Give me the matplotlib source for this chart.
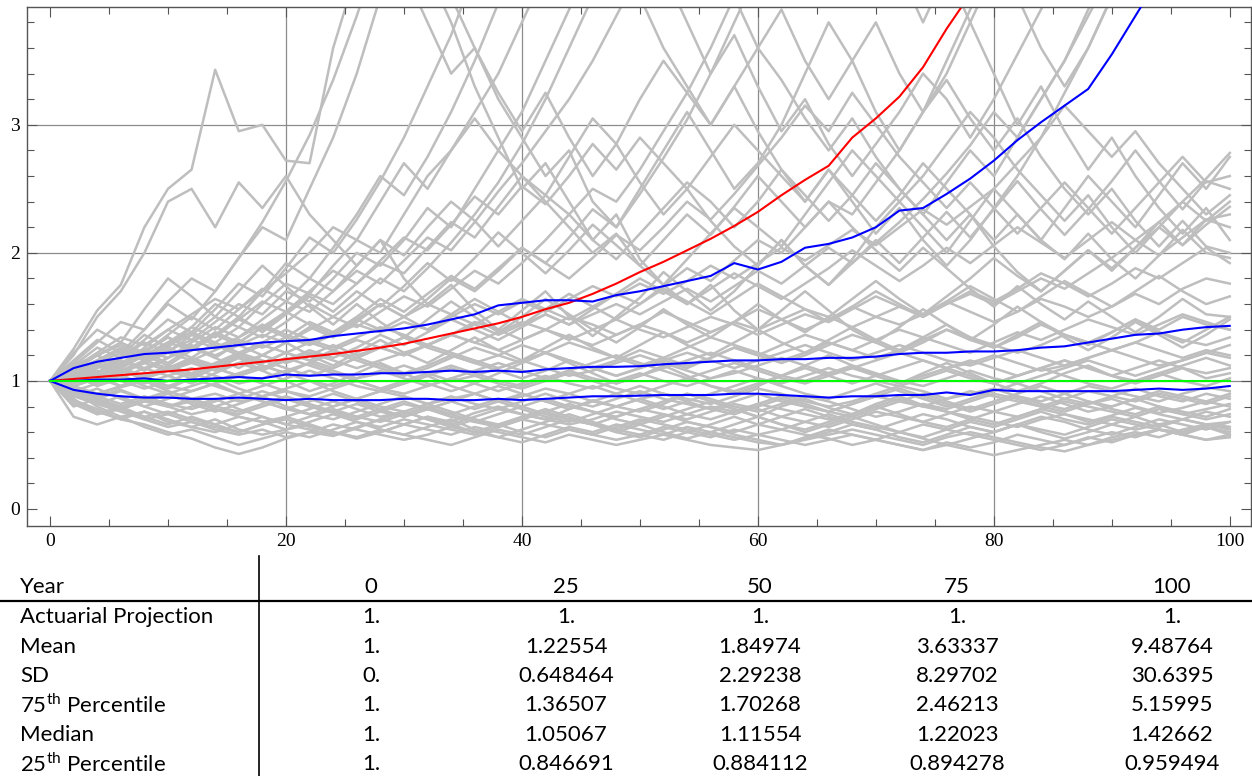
import numpy as np
import matplotlib.pyplot as plt
from matplotlib.lines import Line2D

plt.rcParams['font.family'] = 'Liberation Serif'

# simulated paths, read every 2 years (0..100)
years = np.arange(0, 101, 2)

paths = [
    [1.00,0.85,0.78,0.70,0.66,0.60,0.55,0.48,0.43,0.48,0.55,0.60,0.57,0.63,0.70,0.66,0.72,0.68,0.75,0.80,0.74,0.70,0.78,0.85,0.80,0.76,0.82,0.90,0.84,0.78,0.72,0.80,0.86,0.79,0.74,0.82,0.88,0.81,0.76,0.70,0.66,0.72,0.78,0.74,0.68,0.73,0.79,0.74,0.70,0.66,0.62],
    [1.00,0.92,0.80,0.72,0.76,0.68,0.64,0.70,0.62,0.58,0.62,0.66,0.60,0.56,0.62,0.58,0.64,0.70,0.62,0.56,0.52,0.58,0.64,0.60,0.66,0.62,0.58,0.64,0.60,0.56,0.52,0.50,0.56,0.62,0.58,0.54,0.60,0.66,0.62,0.58,0.54,0.50,0.46,0.50,0.56,0.52,0.58,0.62,0.60,0.64,0.58],
    [1.00,0.94,0.88,0.93,0.86,0.80,0.84,0.78,0.74,0.80,0.86,0.80,0.75,0.70,0.76,0.82,0.78,0.72,0.68,0.74,0.80,0.86,0.80,0.76,0.72,0.78,0.84,0.90,0.86,0.80,0.76,0.82,0.88,0.84,0.78,0.72,0.76,0.82,0.78,0.84,0.90,0.86,0.80,0.76,0.82,0.86,0.80,0.75,0.79,0.84,0.80],
    [1.00,0.86,0.74,0.78,0.70,0.64,0.68,0.62,0.58,0.62,0.56,0.60,0.66,0.62,0.58,0.54,0.58,0.64,0.70,0.66,0.60,0.56,0.62,0.58,0.64,0.70,0.66,0.62,0.58,0.54,0.58,0.62,0.58,0.55,0.50,0.54,0.50,0.46,0.52,0.48,0.52,0.58,0.54,0.50,0.55,0.60,0.56,0.62,0.58,0.54,0.56],
    [1.00,0.90,0.84,0.78,0.84,0.80,0.74,0.78,0.72,0.68,0.72,0.78,0.84,0.78,0.72,0.76,0.70,0.66,0.72,0.78,0.74,0.70,0.66,0.70,0.76,0.72,0.68,0.74,0.80,0.76,0.82,0.78,0.74,0.70,0.74,0.80,0.86,0.80,0.76,0.72,0.68,0.64,0.70,0.74,0.70,0.66,0.62,0.66,0.70,0.66,0.68],
    [1.00,0.96,0.90,0.95,1.00,0.92,0.86,0.90,0.84,0.88,0.92,0.86,0.80,0.86,0.92,0.88,0.82,0.86,0.90,0.84,0.88,0.94,0.90,0.84,0.80,0.86,0.90,0.86,0.82,0.88,0.94,0.90,0.84,0.80,0.84,0.90,0.96,0.92,0.86,0.90,0.94,0.88,0.84,0.90,0.96,0.92,0.88,0.84,0.90,0.95,0.92],
    [1.00,0.88,0.82,0.76,0.70,0.74,0.68,0.64,0.60,0.66,0.70,0.64,0.60,0.56,0.60,0.66,0.62,0.58,0.64,0.60,0.56,0.52,0.58,0.54,0.50,0.54,0.58,0.54,0.50,0.48,0.46,0.50,0.54,0.58,0.62,0.58,0.54,0.50,0.56,0.60,0.56,0.52,0.48,0.45,0.50,0.56,0.60,0.56,0.62,0.66,0.64],
    [1.00,1.06,1.12,1.04,0.98,1.04,1.10,1.04,0.98,1.02,1.08,1.14,1.08,1.02,1.06,1.12,1.06,1.00,1.04,1.10,1.16,1.10,1.04,1.08,1.14,1.20,1.14,1.08,1.02,1.06,1.12,1.18,1.12,1.06,1.10,1.16,1.22,1.16,1.10,1.14,1.20,1.14,1.08,1.12,1.18,1.24,1.18,1.12,1.16,1.22,1.18],
    [1.00,1.10,1.04,0.96,1.02,1.08,1.16,1.10,1.04,1.10,1.18,1.12,1.06,1.00,0.94,1.00,1.06,1.12,1.06,1.00,0.96,1.02,1.08,1.02,0.98,1.04,1.10,1.16,1.22,1.16,1.10,1.04,1.00,1.06,1.12,1.06,1.00,0.96,1.02,1.08,1.02,0.98,1.04,1.10,1.16,1.10,1.04,1.10,1.16,1.22,1.28],
    [1.00,1.12,1.20,1.28,1.20,1.30,1.38,1.30,1.22,1.30,1.40,1.32,1.26,1.34,1.42,1.36,1.28,1.36,1.46,1.40,1.32,1.40,1.50,1.44,1.36,1.44,1.54,1.46,1.38,1.46,1.56,1.48,1.40,1.48,1.58,1.50,1.44,1.52,1.62,1.54,1.46,1.54,1.64,1.58,1.50,1.58,1.68,1.60,1.72,1.80,1.76],
    [1.00,1.25,1.55,1.75,2.20,2.50,2.65,3.43,2.95,3.00,2.72,2.70,3.60,4.20,4.60,4.20,3.80,3.40,3.60,3.20,2.90,2.60,2.80,2.40,2.20,2.50,2.80,3.10,2.80,2.50,2.70,3.00,3.40,3.80,3.50,3.10,2.80,3.10,3.50,3.90,4.30,4.00,3.60,3.30,3.60,4.00,4.40,4.80,5.20,4.80,5.20],
    [1.00,1.20,1.50,1.70,2.00,2.40,2.50,2.20,2.55,2.35,2.60,2.30,2.10,1.90,2.10,1.80,1.60,1.75,1.55,1.40,1.55,1.70,1.50,1.35,1.50,1.65,1.85,1.70,1.55,1.70,1.90,2.10,1.90,1.75,1.95,2.20,2.40,2.20,2.00,2.25,2.50,2.30,2.10,2.35,2.60,2.40,2.20,2.45,2.70,2.50,2.75],
    [1.00,1.08,1.16,1.24,1.18,1.28,1.36,1.28,1.20,1.14,1.22,1.30,1.24,1.18,1.26,1.34,1.26,1.20,1.14,1.20,1.28,1.22,1.16,1.10,1.16,1.24,1.18,1.12,1.18,1.26,1.20,1.14,1.20,1.28,1.36,1.30,1.22,1.30,1.40,1.32,1.26,1.34,1.44,1.36,1.30,1.38,1.48,1.40,1.50,1.44,1.40],
    [1.00,1.10,1.22,1.34,1.28,1.40,1.52,1.64,1.56,1.70,1.84,2.00,2.20,2.10,2.40,2.70,2.50,2.80,3.10,3.40,3.80,4.20,4.60,5.00,5.40,5.80,6.20,6.60,7.00,7.40,7.80,8.20,8.60,9.00,9.40,9.80,10.2,10.6,11.0,11.4,11.8,12.2,12.6,13.0,13.4,13.8,14.2,14.6,15.0,15.4,15.8],
    [1.00,1.12,1.06,1.18,1.30,1.22,1.36,1.50,1.42,1.60,1.76,1.68,1.90,2.10,2.00,2.30,2.60,2.80,3.05,2.80,2.60,2.40,2.20,2.00,2.15,1.90,1.75,1.95,2.15,2.35,2.20,2.05,2.30,2.55,2.80,2.60,2.40,2.60,2.85,3.10,2.90,2.65,2.45,2.25,2.45,2.20,2.00,2.20,2.40,2.25,2.40],
    [1.00,0.92,0.98,1.04,0.96,0.90,0.96,1.02,0.94,0.88,0.94,1.00,0.92,0.86,0.92,0.98,1.04,0.96,0.90,0.96,0.90,0.84,0.90,0.96,0.90,0.84,0.78,0.84,0.90,0.96,1.02,0.96,0.90,0.86,0.92,0.98,0.92,0.86,0.80,0.86,0.92,0.98,0.92,0.86,0.82,0.88,0.94,0.88,0.84,0.90,0.86],
    [1.00,1.04,0.98,1.06,1.14,1.08,1.02,1.10,1.18,1.12,1.06,1.14,1.22,1.16,1.10,1.04,1.10,1.18,1.26,1.20,1.14,1.22,1.30,1.24,1.18,1.12,1.18,1.26,1.34,1.28,1.22,1.16,1.22,1.30,1.24,1.18,1.24,1.32,1.40,1.34,1.28,1.22,1.28,1.36,1.30,1.24,1.30,1.38,1.32,1.28,1.34],
    [1.00,0.90,0.82,0.88,0.80,0.74,0.80,0.86,0.78,0.72,0.66,0.72,0.78,0.72,0.68,0.74,0.80,0.74,0.68,0.64,0.70,0.76,0.70,0.66,0.62,0.68,0.74,0.68,0.64,0.60,0.66,0.72,0.78,0.72,0.66,0.62,0.68,0.74,0.70,0.64,0.60,0.66,0.72,0.68,0.62,0.58,0.64,0.70,0.66,0.62,0.68],
    [1.00,1.08,1.20,1.12,1.26,1.40,1.32,1.46,1.60,1.52,1.70,1.62,1.80,2.00,1.90,2.10,2.35,2.20,2.50,2.80,3.10,3.50,3.90,4.30,4.10,4.50,4.20,3.80,3.40,3.70,3.30,2.95,3.20,2.85,2.60,2.85,3.10,3.40,3.20,2.90,3.20,3.55,3.90,4.30,4.70,5.10,5.50,5.90,6.30,6.70,7.10],
    [1.00,1.06,1.14,1.08,1.02,1.10,1.18,1.12,1.20,1.28,1.22,1.16,1.24,1.32,1.26,1.20,1.28,1.36,1.30,1.38,1.46,1.40,1.32,1.40,1.48,1.40,1.34,1.42,1.50,1.44,1.36,1.44,1.52,1.46,1.56,1.66,1.58,1.50,1.60,1.70,1.62,1.72,1.84,1.76,1.66,1.76,1.88,1.80,1.92,2.04,1.92],
    [1.00,0.94,0.86,0.80,0.86,0.92,0.86,0.80,0.76,0.82,0.88,0.82,0.76,0.72,0.78,0.84,0.78,0.74,0.80,0.86,0.80,0.74,0.70,0.66,0.72,0.78,0.74,0.70,0.76,0.82,0.78,0.72,0.68,0.64,0.70,0.76,0.72,0.68,0.74,0.80,0.76,0.72,0.78,0.84,0.80,0.76,0.72,0.78,0.74,0.70,0.74],
    [1.00,1.04,0.96,1.02,1.10,1.04,0.98,1.06,1.14,1.08,1.16,1.24,1.18,1.26,1.36,1.28,1.38,1.48,1.40,1.32,1.42,1.52,1.44,1.56,1.68,1.60,1.74,1.88,1.78,1.94,2.10,2.00,2.20,2.40,2.30,2.55,2.80,3.10,3.40,3.80,4.20,4.60,5.00,5.40,5.80,6.20,6.60,7.00,7.40,7.80,8.20],
    [1.00,1.14,1.30,1.46,1.40,1.62,1.80,1.70,1.96,2.20,2.10,2.50,2.90,3.40,4.00,4.60,4.20,3.80,3.30,2.90,2.50,2.70,2.40,2.10,2.30,1.95,1.75,1.60,1.75,1.55,1.40,1.55,1.70,1.55,1.40,1.30,1.42,1.56,1.44,1.32,1.44,1.58,1.46,1.34,1.24,1.34,1.46,1.36,1.26,1.36,1.48],
    [1.00,1.02,1.08,1.00,0.94,1.00,1.06,1.00,1.06,1.12,1.06,1.00,0.96,1.02,1.08,1.02,0.96,1.02,1.08,1.14,1.08,1.02,1.08,1.14,1.20,1.14,1.08,1.02,1.08,1.14,1.08,1.02,0.98,1.04,1.10,1.04,0.98,1.04,1.10,1.16,1.10,1.04,1.10,1.16,1.10,1.04,1.00,1.06,1.12,1.18,1.12],
    [1.00,1.10,1.20,1.30,1.22,1.36,1.50,1.40,1.56,1.72,1.62,1.80,1.70,1.90,2.10,1.98,2.20,2.40,2.25,2.05,2.25,2.45,2.30,2.10,1.95,2.15,2.35,2.55,2.40,2.20,2.40,2.65,2.45,2.25,2.45,2.70,2.50,2.30,2.55,2.80,2.60,2.90,3.20,3.50,3.90,4.30,4.70,5.10,5.50,5.90,6.30],
    [1.00,0.90,0.84,0.78,0.72,0.76,0.70,0.66,0.72,0.68,0.62,0.68,0.74,0.68,0.64,0.70,0.66,0.62,0.58,0.64,0.70,0.66,0.62,0.58,0.54,0.58,0.64,0.60,0.56,0.62,0.58,0.54,0.50,0.54,0.58,0.54,0.50,0.46,0.50,0.46,0.42,0.46,0.50,0.54,0.50,0.54,0.58,0.62,0.58,0.54,0.58],
    [1.00,1.06,1.00,1.08,1.16,1.10,1.04,1.12,1.20,1.14,1.22,1.16,1.10,1.18,1.26,1.20,1.28,1.36,1.30,1.24,1.32,1.40,1.34,1.28,1.36,1.44,1.38,1.30,1.38,1.46,1.40,1.48,1.56,1.50,1.42,1.50,1.58,1.52,1.60,1.68,1.60,1.70,1.80,1.72,1.84,1.96,2.10,2.24,2.40,2.58,2.78],
    [1.00,1.10,1.04,1.14,1.24,1.18,1.30,1.42,1.34,1.48,1.62,1.54,1.70,1.86,1.76,1.94,2.12,2.02,2.24,2.48,2.70,2.95,3.20,3.50,3.85,4.20,4.60,5.00,5.40,5.80,6.20,6.60,7.00,7.40,7.80,8.20,8.60,9.00,9.40,9.80,10.2,10.6,11.0,11.4,11.8,12.2,12.6,13.0,13.4,13.8,14.2],
    [1.00,1.08,1.16,1.10,1.20,1.30,1.24,1.36,1.48,1.40,1.54,1.68,1.60,1.76,1.92,1.84,2.04,2.24,2.12,2.36,2.60,2.45,2.75,3.05,2.85,3.20,3.50,3.25,3.00,3.30,3.60,3.35,3.05,2.80,3.05,2.75,2.50,2.30,2.10,2.30,2.05,1.85,1.70,1.86,2.02,1.86,2.04,2.24,2.06,2.26,2.20],
    [1.00,0.96,1.02,1.08,1.02,0.96,1.02,0.96,0.90,0.96,1.02,1.08,1.02,0.96,0.92,0.98,1.04,1.10,1.04,0.98,0.94,1.00,1.06,1.00,0.94,0.90,0.96,1.02,0.96,0.92,0.98,1.04,1.10,1.04,0.98,1.04,1.10,1.16,1.10,1.04,0.98,1.04,1.10,1.04,0.98,0.94,1.00,1.06,1.00,0.96,1.02],
    [1.00,0.94,0.88,0.82,0.88,0.82,0.78,0.84,0.90,0.84,0.78,0.74,0.80,0.86,0.80,0.76,0.82,0.88,0.82,0.78,0.84,0.90,0.84,0.80,0.86,0.92,0.86,0.82,0.78,0.84,0.90,0.84,0.80,0.76,0.82,0.88,0.84,0.80,0.86,0.92,0.88,0.84,0.80,0.86,0.92,0.88,0.84,0.90,0.86,0.82,0.88],
    [1.00,1.08,1.00,1.10,1.20,1.12,1.24,1.36,1.28,1.20,1.30,1.42,1.34,1.46,1.60,1.50,1.64,1.80,1.70,1.86,2.04,1.92,2.12,2.34,2.20,2.46,2.74,3.04,3.40,3.80,4.20,4.60,5.00,4.60,4.20,4.60,4.20,3.80,4.20,3.80,3.40,3.00,3.30,2.95,2.65,2.90,2.60,2.35,2.15,2.35,2.10],
    [1.00,1.10,1.20,1.12,1.24,1.34,1.26,1.38,1.30,1.42,1.54,1.44,1.36,1.48,1.60,1.50,1.40,1.52,1.64,1.54,1.44,1.56,1.68,1.58,1.48,1.60,1.72,1.62,1.52,1.64,1.76,1.66,1.56,1.46,1.58,1.70,1.60,1.50,1.62,1.74,1.64,1.54,1.66,1.78,1.68,1.58,1.70,1.82,1.70,1.60,1.66],
    [1.00,0.92,0.86,0.92,0.86,0.80,0.86,0.80,0.86,0.92,0.86,0.80,0.76,0.82,0.76,0.72,0.78,0.84,0.78,0.84,0.90,0.84,0.78,0.84,0.90,0.96,0.90,0.84,0.78,0.74,0.80,0.86,0.80,0.76,0.82,0.88,0.94,0.88,0.82,0.76,0.82,0.88,0.82,0.78,0.84,0.78,0.74,0.80,0.76,0.72,0.78],
    [1.00,1.12,1.26,1.18,1.32,1.48,1.38,1.56,1.76,1.66,1.88,2.12,2.00,2.26,2.56,2.90,3.30,3.70,4.20,4.70,5.20,4.80,4.40,4.80,4.40,4.00,3.60,3.30,3.00,3.30,2.95,2.65,2.40,2.65,2.40,2.15,2.35,2.10,1.90,2.10,2.35,2.60,2.90,3.25,3.60,4.00,4.40,4.80,5.20,5.60,6.00],
    [1.00,1.06,1.14,1.22,1.16,1.24,1.32,1.26,1.34,1.44,1.36,1.30,1.38,1.48,1.40,1.50,1.60,1.52,1.44,1.54,1.64,1.56,1.48,1.58,1.68,1.80,1.70,1.60,1.72,1.84,1.74,1.64,1.76,1.88,2.02,1.90,1.78,1.90,2.04,1.92,2.06,2.20,2.08,1.96,2.10,2.24,2.10,1.98,2.12,2.26,2.30],
    [1.00,0.84,0.76,0.70,0.76,0.70,0.64,0.60,0.66,0.72,0.66,0.62,0.58,0.64,0.70,0.76,0.70,0.64,0.60,0.56,0.62,0.68,0.74,0.68,0.62,0.58,0.54,0.60,0.66,0.72,0.66,0.62,0.68,0.74,0.68,0.64,0.60,0.56,0.62,0.68,0.64,0.70,0.76,0.70,0.66,0.72,0.68,0.64,0.70,0.76,0.72],
    [1.00,1.08,1.02,0.96,1.04,1.12,1.06,1.14,1.22,1.16,1.10,1.04,1.10,1.18,1.12,1.06,1.12,1.20,1.14,1.08,1.02,1.08,1.16,1.10,1.04,1.10,1.16,1.10,1.18,1.26,1.20,1.28,1.36,1.30,1.24,1.32,1.40,1.34,1.28,1.22,1.30,1.38,1.32,1.40,1.48,1.42,1.36,1.44,1.52,1.46,1.40],
    [1.00,1.04,1.10,1.16,1.10,1.18,1.26,1.20,1.28,1.36,1.30,1.40,1.50,1.42,1.54,1.66,1.58,1.72,1.86,1.76,1.92,2.10,2.30,2.50,2.40,2.65,2.95,3.25,3.60,4.00,4.40,4.80,5.20,5.60,6.00,6.40,6.80,7.20,7.60,8.00,8.40,8.80,9.20,9.60,10.0,10.4,10.8,11.2,11.6,12.0,12.4],
    [1.00,0.98,1.04,1.10,1.04,1.10,1.16,1.10,1.04,1.10,1.16,1.22,1.16,1.10,1.16,1.22,1.28,1.22,1.16,1.10,1.16,1.22,1.16,1.10,1.04,1.10,1.16,1.22,1.16,1.10,1.16,1.22,1.28,1.22,1.16,1.22,1.28,1.22,1.16,1.12,1.18,1.24,1.18,1.12,1.18,1.24,1.30,1.24,1.18,1.24,1.20],
    [1.00,1.10,1.02,1.12,1.22,1.14,1.26,1.18,1.30,1.42,1.34,1.46,1.38,1.50,1.64,1.54,1.68,1.82,1.72,1.88,2.04,1.92,1.80,1.96,2.14,2.02,2.20,2.40,2.26,2.46,2.68,2.90,3.15,2.95,3.25,3.00,2.75,2.55,2.35,2.55,2.35,2.15,2.35,2.55,2.35,2.15,2.35,2.55,2.75,2.55,2.60],
    [1.00,1.14,1.06,1.20,1.36,1.26,1.42,1.60,1.50,1.70,1.92,1.80,2.04,2.30,2.60,2.45,2.75,3.10,3.50,3.95,4.40,4.90,5.40,5.00,5.50,6.00,6.50,7.00,7.50,8.00,8.50,9.00,9.50,10.0,10.5,11.0,11.5,12.0,12.5,13.0,13.5,14.0,14.5,15.0,15.5,16.0,16.5,17.0,17.5,18.0,18.5],
    [1.00,0.96,1.02,1.08,1.02,1.08,1.14,1.08,1.14,1.20,1.14,1.20,1.28,1.20,1.26,1.34,1.28,1.36,1.44,1.36,1.44,1.52,1.44,1.52,1.60,1.52,1.62,1.72,1.62,1.74,1.86,1.76,1.90,2.04,1.92,2.08,2.24,2.42,2.62,2.84,3.10,2.90,3.20,3.50,3.85,4.20,4.60,5.00,5.40,5.80,6.20],
    [1.00,1.08,1.16,1.26,1.18,1.30,1.42,1.34,1.48,1.62,1.54,1.70,1.86,1.76,1.94,2.12,2.02,2.22,2.44,2.30,2.52,2.38,2.60,2.85,2.65,2.90,2.70,2.50,2.75,3.00,2.80,2.60,2.40,2.65,2.45,2.25,2.45,2.70,2.50,2.30,2.10,2.30,2.10,1.95,2.15,1.95,1.80,1.98,2.18,2.00,1.96],
    [1.00,0.94,0.90,0.96,1.02,0.96,0.92,0.98,1.04,0.98,0.92,0.88,0.94,1.00,0.94,0.90,0.96,1.02,0.98,0.92,0.98,1.04,0.98,0.94,1.00,1.06,1.00,0.96,1.02,1.08,1.02,0.98,1.04,1.10,1.04,1.00,0.96,1.02,1.08,1.02,0.98,1.04,1.10,1.16,1.10,1.04,1.10,1.16,1.10,1.06,1.10],
    [1.00,1.04,1.12,1.06,1.14,1.22,1.16,1.24,1.32,1.26,1.34,1.28,1.36,1.44,1.38,1.46,1.40,1.50,1.60,1.52,1.62,1.54,1.64,1.74,1.66,1.76,1.68,1.78,1.90,1.80,1.92,2.04,1.94,2.06,2.18,2.06,2.20,2.34,2.22,2.36,2.50,2.70,2.90,3.15,2.95,2.75,2.95,2.70,2.50,2.30,2.45],
    [1.00,0.72,0.66,0.72,0.64,0.58,0.62,0.56,0.50,0.55,0.60,0.56,0.62,0.68,0.62,0.58,0.54,0.50,0.56,0.62,0.58,0.64,0.70,0.66,0.60,0.56,0.62,0.68,0.64,0.58,0.54,0.50,0.55,0.60,0.66,0.62,0.56,0.52,0.58,0.64,0.60,0.66,0.62,0.58,0.64,0.70,0.66,0.62,0.58,0.64,0.60],
    [1.00,0.80,0.86,0.78,0.84,0.90,0.82,0.76,0.82,0.88,0.80,0.74,0.70,0.76,0.82,0.88,0.82,0.76,0.70,0.64,0.70,0.76,0.82,0.76,0.70,0.66,0.72,0.78,0.84,0.78,0.72,0.66,0.62,0.68,0.74,0.80,0.74,0.68,0.64,0.70,0.76,0.82,0.88,0.82,0.76,0.80,0.86,0.80,0.74,0.78,0.82],
    [1.00,1.12,1.02,1.10,1.00,0.94,1.02,1.10,1.18,1.08,1.00,0.92,0.98,1.06,1.14,1.06,0.98,0.92,0.98,1.06,1.14,1.22,1.14,1.06,0.98,1.04,1.12,1.04,0.96,0.90,0.96,1.04,1.12,1.20,1.12,1.04,0.98,1.06,1.14,1.06,0.98,0.92,0.98,1.06,1.12,1.04,0.98,1.04,1.10,1.02,1.06],
    [1.00,1.22,1.40,1.30,1.56,1.80,1.66,1.50,1.70,1.90,1.74,1.58,1.44,1.60,1.46,1.34,1.48,1.62,1.50,1.38,1.50,1.64,1.52,1.40,1.30,1.42,1.56,1.44,1.34,1.46,1.60,1.48,1.38,1.50,1.64,1.78,1.64,1.52,1.66,1.80,1.96,1.82,1.70,1.86,2.02,1.88,2.04,2.20,2.06,2.22,2.36],
    [1.00,1.06,1.14,1.06,1.16,1.26,1.18,1.30,1.42,1.34,1.46,1.60,1.50,1.64,1.80,1.70,1.88,2.08,2.30,2.55,2.85,3.20,3.60,4.00,4.40,4.00,4.40,4.80,4.40,4.00,3.60,3.90,3.50,3.20,3.50,3.80,3.40,3.10,3.35,3.05,2.80,3.05,2.75,2.50,2.30,2.50,2.25,2.05,2.25,2.05,2.00],
    [1.00,0.88,0.94,0.86,0.80,0.86,0.92,0.98,0.90,0.84,0.78,0.84,0.90,0.84,0.78,0.72,0.78,0.84,0.90,0.84,0.78,0.72,0.68,0.74,0.80,0.86,0.80,0.74,0.70,0.76,0.82,0.88,0.82,0.76,0.72,0.78,0.84,0.90,0.84,0.78,0.84,0.90,0.96,0.90,0.84,0.80,0.86,0.92,0.88,0.84,0.90],
    [1.00,1.10,1.20,1.10,1.22,1.34,1.24,1.36,1.50,1.38,1.52,1.66,1.54,1.70,1.58,1.74,1.92,1.78,1.96,2.16,2.00,1.84,2.02,2.22,2.06,1.90,2.10,2.30,2.14,2.36,2.60,2.40,2.20,2.40,2.20,2.02,1.86,2.04,1.88,1.72,1.58,1.74,1.60,1.48,1.62,1.50,1.38,1.50,1.64,1.52,1.50],
    [1.00,1.16,1.32,1.22,1.40,1.60,1.48,1.70,1.96,2.24,2.56,2.92,3.35,3.85,4.40,5.00,4.50,4.00,3.60,3.25,2.95,3.25,2.90,2.60,2.85,2.55,2.30,2.50,2.25,2.05,1.90,2.10,1.90,1.75,1.92,2.10,1.92,2.12,2.32,2.12,2.34,2.56,2.34,2.14,2.34,2.56,2.80,2.56,2.34,2.56,2.50],
    [1.00,0.82,0.74,0.80,0.72,0.66,0.72,0.66,0.60,0.66,0.72,0.66,0.60,0.55,0.60,0.66,0.72,0.66,0.60,0.66,0.72,0.78,0.72,0.66,0.60,0.66,0.60,0.55,0.60,0.66,0.72,0.66,0.60,0.66,0.72,0.66,0.60,0.55,0.50,0.55,0.60,0.66,0.60,0.55,0.60,0.66,0.72,0.66,0.60,0.66,0.64],
    [1.00,1.14,1.06,1.16,1.08,1.18,1.28,1.18,1.10,1.20,1.30,1.20,1.12,1.22,1.32,1.22,1.14,1.24,1.34,1.24,1.16,1.26,1.36,1.26,1.18,1.28,1.38,1.28,1.20,1.30,1.40,1.30,1.22,1.32,1.42,1.32,1.24,1.34,1.44,1.34,1.26,1.36,1.46,1.36,1.28,1.38,1.48,1.38,1.30,1.40,1.50],
]

mean = [1.00,1.015,1.03,1.045,1.06,1.075,1.09,1.11,1.13,1.15,1.17,1.19,1.21,1.235,1.26,1.29,1.33,1.37,1.41,1.45,
        1.50,1.56,1.61,1.68,1.76,1.85,1.93,2.02,2.11,2.21,2.32,2.45,2.57,2.68,2.90,3.05,3.22,3.45,3.75,4.02,
        4.40,4.80,5.20,5.60,6.00,6.50,7.00,7.60,8.20,8.80,9.49]
p75 = [1.00,1.10,1.15,1.18,1.21,1.22,1.24,1.26,1.28,1.30,1.31,1.32,1.35,1.37,1.39,1.41,1.44,1.48,1.52,1.59,
       1.61,1.63,1.63,1.62,1.67,1.70,1.74,1.78,1.82,1.92,1.87,1.93,2.04,2.07,2.12,2.20,2.33,2.35,2.46,2.58,
       2.72,2.88,3.02,3.15,3.28,3.55,3.85,4.15,4.45,4.80,5.16]
median = [1.00,1.00,1.01,1.01,1.02,1.00,1.01,1.02,1.03,1.02,1.05,1.04,1.05,1.05,1.06,1.06,1.07,1.08,1.07,1.08,
          1.07,1.09,1.10,1.11,1.11,1.115,1.13,1.14,1.15,1.16,1.16,1.17,1.17,1.18,1.18,1.19,1.21,1.22,1.22,1.23,
          1.23,1.24,1.26,1.27,1.30,1.33,1.36,1.37,1.40,1.42,1.43]
p25 = [1.00,0.93,0.90,0.88,0.87,0.87,0.86,0.86,0.87,0.86,0.85,0.86,0.85,0.85,0.85,0.86,0.86,0.85,0.85,0.86,
       0.85,0.86,0.87,0.88,0.88,0.885,0.89,0.89,0.89,0.90,0.90,0.89,0.88,0.87,0.88,0.88,0.89,0.89,0.91,0.89,
       0.93,0.92,0.92,0.92,0.92,0.92,0.93,0.94,0.93,0.94,0.96]
actuarial = np.ones(len(years))

# summary table
table_years = ['0', '25', '50', '75', '100']
row_labels = ['Actuarial Projection', 'Mean', 'SD', r'75$^{\mathregular{th}}$ Percentile',
              'Median', r'25$^{\mathregular{th}}$ Percentile']
table_vals = [
    ['1.', '1.', '1.', '1.', '1.'],
    ['1.', '1.22554', '1.84974', '3.63337', '9.48764'],
    ['0.', '0.648464', '2.29238', '8.29702', '30.6395'],
    ['1.', '1.36507', '1.70268', '2.46213', '5.15995'],
    ['1.', '1.05067', '1.11554', '1.22023', '1.42662'],
    ['1.', '0.846691', '0.884112', '0.894278', '0.959494'],
]

W, H = 1252, 776
def fx(x):
    return x / W
def fy(y):
    return 1 - y / H

fig = plt.figure(figsize=(W / 100, H / 100), dpi=100)
ax = fig.add_axes([fx(27), fy(526), fx(1251) - fx(27), fy(7) - fy(526)])

for gx in [20, 40, 60, 80]:
    ax.axvline(gx, color='#8c8c8c', lw=0.9, zorder=0)
for gy in [1, 2, 3]:
    ax.axhline(gy, color='#8c8c8c', lw=0.9, zorder=0)

for p in paths:
    ax.plot(years, p, color='#bebebe', lw=1.8, zorder=1)
ax.plot(years, mean, color='#ff0000', lw=1.5, zorder=2)
for s in [p75, median, p25]:
    ax.plot(years, s, color='#0000ff', lw=1.5, zorder=3)
ax.plot(years, actuarial, color='#00ff00', lw=1.5, zorder=4)

ax.set_xlim(-1.95, 101.8)
ax.set_ylim(-0.133, 3.92)
ax.set_xticks([0, 20, 40, 60, 80, 100])
ax.set_xticks(np.arange(0, 101, 5), minor=True)
ax.set_yticks([0, 1, 2, 3])
ax.set_yticks(np.arange(0, 3.9, 0.2), minor=True)
ax.tick_params(which='both', direction='in', top=True, right=True, width=0.8, color='#555555')
ax.tick_params(which='major', length=7, labelsize=14, pad=5)
ax.tick_params(which='minor', length=5)
for sp in ax.spines.values():
    sp.set_color('#555555')
    sp.set_linewidth(1.0)

# table below the plot
tfont = dict(family='Lato', fontsize=16, va='center')
row_y = [617, 647, 676, 705, 735, 764]
col_x = [371, 566, 760, 957, 1172]

fig.text(fx(20), fy(587), 'Year', ha='left', **tfont)
for cx, yr in zip(col_x, table_years):
    fig.text(fx(cx), fy(587), yr, ha='center', **tfont)
for ry, lab, vals in zip(row_y, row_labels, table_vals):
    fig.text(fx(20), fy(ry), lab, ha='left', **tfont)
    for cx, v in zip(col_x, vals):
        fig.text(fx(cx), fy(ry), v, ha='center', **tfont)

fig.add_artist(Line2D([0, 1], [fy(601), fy(601)], color='black', lw=1.6))
fig.add_artist(Line2D([fx(259), fx(259)], [fy(556), 0], color='black', lw=1.2))

fig.savefig('out.png', dpi=100)
